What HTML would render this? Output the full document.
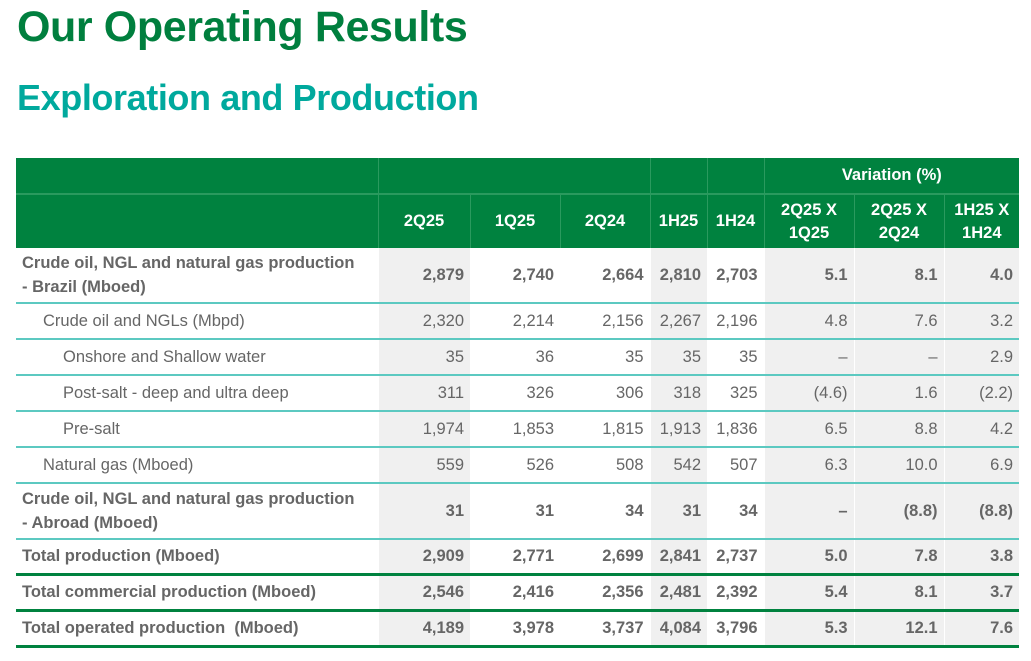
<!DOCTYPE html>
<html><head><meta charset="utf-8"><style>
body{margin:0;width:1031px;height:661px;background:#fff;font-family:"Liberation Sans",sans-serif;overflow:hidden;position:relative}
h1{position:absolute;left:17px;top:3px;margin:0;font-size:43px;color:#007f3e;font-weight:bold;letter-spacing:-0.4px}
h2{position:absolute;left:17px;top:77px;margin:0;font-size:36px;color:#00a99d;font-weight:bold;letter-spacing:-0.4px}
table{position:absolute;left:16px;top:158px;border-collapse:collapse;table-layout:fixed;width:1003px;color:#666;font-size:16.5px}
td,th{padding:0 6px;text-align:right;white-space:nowrap}
th{background:#00823f;color:#fff;font-weight:bold;border-left:1px solid #2a9a5e}
th.first{border-left:none}
tr.h1 th{height:35px;border-bottom:2px solid #2a9a5e}
tr.h2 th{height:53px;line-height:23px}
td{height:34px;border-bottom:2px solid #5cc9c1}
td.l{text-align:left}
.s{background:#f0f0f0;border-left:1px solid #fff}
.b td{font-weight:bold}
.tall td{height:54px;line-height:24px}
.g td{border-bottom:3px solid #00823f;height:33px}
.i1{padding-left:27px}.i2{padding-left:47px}
</style></head><body>
<h1>Our Operating Results</h1>
<h2>Exploration and Production</h2>
<table>
<colgroup><col style="width:362px"><col style="width:92px"><col style="width:90px"><col style="width:90px"><col style="width:57px"><col style="width:57px"><col style="width:90px"><col style="width:90px"><col style="width:75px"></colgroup>
<tr class="h1"><th class="first"></th><th colspan="3"></th><th></th><th></th><th colspan="3" style="text-align:center">Variation (%)</th></tr>
<tr class="h2"><th class="first"></th><th style="text-align:center">2Q25</th><th style="text-align:center">1Q25</th><th style="text-align:center">2Q24</th><th style="text-align:center;padding:0 4px">1H25</th><th style="text-align:center;padding:0 4px">1H24</th><th style="text-align:center">2Q25 X<br>1Q25</th><th style="text-align:center">2Q25 X<br>2Q24</th><th style="text-align:center">1H25 X<br>1H24</th></tr>
<tr class="b tall"><td class="l">Crude oil, NGL and natural gas production<br>- Brazil (Mboed)</td><td class="s">2,879</td><td>2,740</td><td>2,664</td><td class="s">2,810</td><td>2,703</td><td class="s">5.1</td><td class="s">8.1</td><td class="s">4.0</td></tr>
<tr><td class="l i1">Crude oil and NGLs (Mbpd)</td><td class="s">2,320</td><td>2,214</td><td>2,156</td><td class="s">2,267</td><td>2,196</td><td class="s">4.8</td><td class="s">7.6</td><td class="s">3.2</td></tr>
<tr><td class="l i2">Onshore and Shallow water</td><td class="s">35</td><td>36</td><td>35</td><td class="s">35</td><td>35</td><td class="s">–</td><td class="s">–</td><td class="s">2.9</td></tr>
<tr><td class="l i2">Post-salt - deep and ultra deep</td><td class="s">311</td><td>326</td><td>306</td><td class="s">318</td><td>325</td><td class="s">(4.6)</td><td class="s">1.6</td><td class="s">(2.2)</td></tr>
<tr><td class="l i2">Pre-salt</td><td class="s">1,974</td><td>1,853</td><td>1,815</td><td class="s">1,913</td><td>1,836</td><td class="s">6.5</td><td class="s">8.8</td><td class="s">4.2</td></tr>
<tr><td class="l i1">Natural gas (Mboed)</td><td class="s">559</td><td>526</td><td>508</td><td class="s">542</td><td>507</td><td class="s">6.3</td><td class="s">10.0</td><td class="s">6.9</td></tr>
<tr class="b tall"><td class="l">Crude oil, NGL and natural gas production<br>- Abroad (Mboed)</td><td class="s">31</td><td>31</td><td>34</td><td class="s">31</td><td>34</td><td class="s">–</td><td class="s">(8.8)</td><td class="s">(8.8)</td></tr>
<tr class="b g"><td class="l">Total production (Mboed)</td><td class="s">2,909</td><td>2,771</td><td>2,699</td><td class="s">2,841</td><td>2,737</td><td class="s">5.0</td><td class="s">7.8</td><td class="s">3.8</td></tr>
<tr class="b g"><td class="l">Total commercial production (Mboed)</td><td class="s">2,546</td><td>2,416</td><td>2,356</td><td class="s">2,481</td><td>2,392</td><td class="s">5.4</td><td class="s">8.1</td><td class="s">3.7</td></tr>
<tr class="b g"><td class="l">Total operated production &nbsp;(Mboed)</td><td class="s">4,189</td><td>3,978</td><td>3,737</td><td class="s">4,084</td><td>3,796</td><td class="s">5.3</td><td class="s">12.1</td><td class="s">7.6</td></tr>
</table>
</body></html>
